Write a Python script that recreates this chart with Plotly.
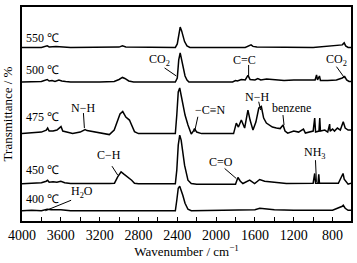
import plotly.graph_objects as go

# ---- data (wavenumber / cm-1, stacked transmittance in arbitrary units) ----
w550 = [4000, 3900, 3800, 3740, 3720, 3650, 3600, 3500, 3000, 2965, 2930, 2420, 2400, 2385, 2370, 2355,
        2340, 2325, 2300, 2270, 1700, 1660, 1640, 1620, 1580, 1000, 700, 680, 665, 640, 610]
t550 = [173.0, 173.2, 173.2, 174.7, 173.7, 174.2, 173.7, 173.2, 173.5, 174.7, 173.7, 173.2, 176.7, 187.7,
        193.5, 189.7, 182.7, 179.0, 174.7, 173.2, 173.2, 174.7, 175.7, 174.2, 173.7, 173.2, 175.7, 177.7,
        174.7, 173.2, 173.2]

w500 = [4000, 3900, 3800, 3740, 3720, 3690, 3660, 3620, 3590, 3550, 3500, 3200, 3050, 3000, 2965, 2940,
        2900, 2850, 2420, 2400, 2385, 2370, 2355, 2340, 2320, 2300, 2280, 1830, 1800, 1780, 1740, 1700,
        1672, 1650, 1600, 1570, 1540, 1480, 1400, 1300, 1200, 1050, 980, 965, 955, 935, 925, 850, 760,
        700, 675, 655, 630, 610]
t500 = [138.7, 138.7, 139.2, 141.2, 139.7, 140.2, 139.2, 140.7, 139.7, 139.2, 138.7, 138.7, 139.2, 141.2,
        143.2, 142.2, 139.7, 138.7, 138.7, 142.7, 160.7, 167.7, 160.7, 150.7, 144.7, 140.7, 138.7, 138.7,
        140.2, 139.7, 141.2, 140.7, 145.2, 141.2, 140.7, 142.2, 140.7, 141.7, 140.7, 140.2, 140.7, 140.2,
        140.7, 145.7, 140.7, 144.7, 140.2, 140.2, 140.7, 142.7, 144.2, 140.7, 139.2, 139.2]

w475 = [4000, 3900, 3800, 3750, 3736, 3720, 3680, 3640, 3610, 3598, 3580, 3530, 3478, 3400, 3350, 3330,
        3300, 3200, 3100, 3050, 3017, 2990, 2962, 2930, 2893, 2870, 2841, 2800, 2420, 2405, 2390, 2375,
        2360, 2343, 2320, 2290, 2256, 2235, 2222, 2200, 2150, 1820, 1792, 1770, 1740, 1706, 1690, 1672,
        1650, 1620, 1590, 1560, 1534, 1510, 1482, 1450, 1420, 1379, 1340, 1310, 1290, 1262, 1200, 1150,
        1100, 1080, 1040, 1000, 984, 975, 940, 932, 925, 880, 850, 830, 825, 800, 780, 750, 720, 690,
        670, 640, 610]
t475 = [87.2, 87.7, 88.7, 90.7, 92.7, 89.7, 89.7, 90.7, 92.7, 94.2, 89.7, 88.2, 87.2, 88.7, 91.2, 90.2,
        89.7, 88.2, 86.2, 90.7, 98.7, 106.7, 109.2, 103.7, 100.7, 95.7, 89.2, 87.2, 87.2, 105.7, 128.7,
        132.7, 125.7, 115.7, 105.7, 95.7, 86.7, 89.7, 92.2, 88.7, 87.2, 87.2, 97.7, 93.7, 100.7, 92.7,
        102.7, 110.7, 100.7, 90.7, 98.7, 112.7, 114.2, 102.7, 97.7, 95.7, 93.7, 92.7, 92.2, 95.7, 89.7,
        87.7, 89.7, 88.7, 91.7, 87.7, 88.7, 89.7, 102.7, 88.7, 89.7, 102.7, 89.7, 90.7, 88.7, 96.7, 89.7,
        91.7, 89.7, 92.7, 90.7, 99.0, 92.7, 90.7, 90.7]

w450 = [4000, 3900, 3800, 3750, 3736, 3720, 3680, 3640, 3600, 3560, 3500, 3100, 3047, 3014, 2979, 2950,
        2910, 2870, 2841, 2800, 2420, 2405, 2390, 2375, 2360, 2343, 2325, 2290, 2256, 2200, 1800, 1775,
        1750, 1724, 1654, 1603, 1551, 1500, 1400, 1300, 1276, 1000, 984, 975, 950, 942, 935, 740, 700,
        692, 680, 660, 640, 610]
t450 = [37.2, 37.7, 38.2, 39.7, 40.7, 38.7, 39.2, 38.7, 39.7, 38.2, 37.4, 37.4, 37.7, 44.0, 49.0, 46.7,
        44.0, 40.7, 37.7, 37.2, 37.2, 50.7, 75.7, 85.7, 80.7, 67.7, 55.7, 40.7, 37.4, 36.7, 36.7, 43.4,
        39.7, 37.4, 40.7, 37.4, 41.4, 39.7, 38.7, 37.7, 37.4, 37.7, 47.4, 37.7, 37.7, 46.7, 37.7, 37.7,
        44.7, 47.4, 41.7, 39.7, 36.7, 37.7]

w400 = [4000, 3900, 3800, 3740, 3700, 3600, 3500, 3100, 3000, 2950, 2420, 2405, 2390, 2375, 2360, 2343,
        2320, 2290, 2256, 1700, 1600, 1550, 1500, 1400, 1200, 800, 700, 690, 670, 640, 610]
t400 = [10.2, 10.7, 10.2, 11.7, 11.2, 11.2, 10.2, 10.2, 10.7, 10.2, 10.2, 20.7, 32.7, 34.7, 30.7, 25.7,
        17.7, 11.7, 10.2, 10.7, 11.2, 12.7, 12.2, 11.2, 10.7, 10.7, 14.7, 15.7, 12.7, 10.7, 10.7]

series = [("550 ℃", w550, t550), ("500 ℃", w500, t500), ("475 ℃", w475, t475),
          ("450 ℃", w450, t450), ("400 ℃", w400, t400)]
label_level = [182.4, 150.7, 103.7, 50.7, 22.4]

# peak assignments: text, text x, text y, pointer start, pointer end
peaks = [
    ("CO<sub>2</sub>", 2582, 160.7, (2531, 152.7), (2410, 144.7)),
    ("C=C", 1706, 160.7, (1665, 155.7), (1665, 144.0)),
    ("CO<sub>2</sub>", 757, 160.7, (760, 154.0), (674, 142.4)),
    ("N−H", 3367, 112.7, (3367, 107.7), (3357, 92.7)),
    ("−C≡N", 2057, 110.7, (2188, 104.0), (2222, 89.0)),
    ("N−H", 1582, 124.0, (1561, 119.0), (1541, 110.7)),
    ("benzene", 1226, 112.4, (1311, 105.7), (1300, 95.7)),
    ("C−H", 3099, 65.7, (3073, 54.7), (3013, 45.7)),
    ("H<sub>2</sub>O", 3378, 29.0, (3494, 20.7), (3760, 10.2)),
    ("C=O", 1954, 59.0, (1912, 52.4), (1792, 42.4)),
    ("NH<sub>3</sub>", 984, 67.4, (976, 60.7), (966, 39.0)),
]

FONT = "Liberation Serif"

fig = go.Figure()
for name, w, t in series:
    fig.add_trace(go.Scatter(x=w, y=t, mode="lines", name=name,
                             line=dict(color="black", width=1.5), showlegend=False,
                             hoverinfo="skip"))

annotations = []
for (name, _, _), lvl in zip(series, label_level):
    annotations.append(dict(x=3975, y=lvl, xref="x", yref="y", text=name, showarrow=False,
                            xanchor="left", yanchor="middle",
                            font=dict(family=FONT, size=12, color="black")))
shapes = []
for text, tx, ty, p0, p1 in peaks:
    annotations.append(dict(x=tx, y=ty, xref="x", yref="y", text=text, showarrow=False,
                            xanchor="center", yanchor="middle",
                            font=dict(family=FONT, size=12, color="black")))
    shapes.append(dict(type="line", xref="x", yref="y", x0=p0[0], y0=p0[1], x1=p1[0], y1=p1[1],
                       line=dict(color="black", width=1)))

fig.update_layout(
    width=357, height=263,
    margin=dict(l=22, r=6, t=7, b=42, autoexpand=False),
    paper_bgcolor="white", plot_bgcolor="white",
    font=dict(family=FONT, color="black"),
    annotations=annotations, shapes=shapes,
    xaxis=dict(range=[4000, 610], tickmode="linear", tick0=800, dtick=400, automargin=False,
               ticks="inside", ticklen=4, tickwidth=1, tickcolor="black",
               minor=dict(dtick=200, tick0=800, ticks="inside", ticklen=4, tickwidth=1, tickcolor="black"),
               showgrid=False, zeroline=False, showline=True, linecolor="black", linewidth=2,
               mirror=True, tickfont=dict(family=FONT, size=14, color="black"),
               title=dict(text="Wavenumber / cm<sup>−1</sup>", font=dict(family=FONT, size=13), standoff=4)),
    yaxis=dict(range=[0, 213.5], showticklabels=False, ticks="", showgrid=False, zeroline=False,
               automargin=False,
               showline=True, linecolor="black", linewidth=2, mirror=True,
               title=dict(text="Transmittance / %", font=dict(family=FONT, size=13), standoff=4)),
)

fig.write_html("out.html", config={"displayModeBar": False},
               post_script="document.body.style.margin='0';")
